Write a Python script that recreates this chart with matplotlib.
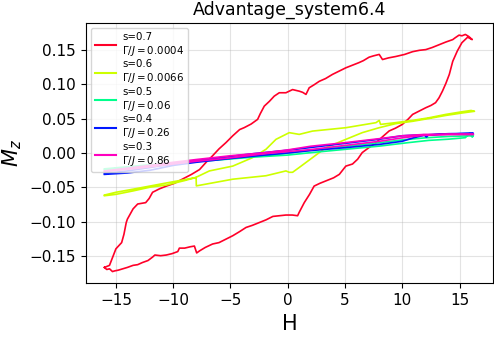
import numpy as np
import matplotlib.pyplot as plt

# --- data (field sweep up, then back down) ---
s_values = [0.7, 0.6, 0.5, 0.4, 0.3]
gamma_labels = ["0.0004", "0.0066", "0.06", "0.26", "0.86"]

# s=0.7 : increasing-H branch followed by decreasing-H branch
h_07 = [-16.0, -15.8, -15.56, -15.3, -15.1, -14.8, -14.4, -14.0, -13.5, -13.1, -12.7, -12.2,
        -11.8, -11.6, -11.1, -10.6, -10.1, -9.6, -9.46, -9.0, -8.5, -8.15, -7.95, -7.7, -7.2,
        -6.56, -6.0, -5.4, -4.8, -4.2, -3.64, -3.1, -2.5, -1.9, -1.3, -0.7, -0.16, 0.4, 0.86,
        1.0, 1.44, 1.9, 2.3, 2.8, 3.4, 4.0, 4.5, 5.07, 5.65, 6.1, 6.5, 7.1, 7.7, 8.3, 8.85,
        9.4, 10.0, 10.5, 10.9, 11.5, 12.05, 12.5, 12.9, 13.2, 13.5, 13.8, 14.1, 14.4, 14.8,
        15.2, 15.7, 16.1,
        15.8, 15.5, 15.2, 14.95, 14.6, 14.4, 13.8, 13.2, 12.6, 12.05, 11.5, 10.9, 10.2, 9.43,
        8.8, 8.27, 8.1, 7.98, 7.5, 7.1, 6.6, 6.2, 5.6, 5.07, 4.5, 3.9, 3.3, 2.75, 2.3, 1.87,
        1.59, 1.3, 1.0, 0.42, -0.16, -0.74, -1.18, -1.6, -2.05, -2.4, -2.63, -3.2, -3.8, -4.2,
        -4.8, -5.4, -6.0, -6.56, -7.1, -7.7, -8.4, -9.2, -9.9, -10.6, -11.2, -11.8, -12.1,
        -12.4, -13.1, -13.5, -13.8, -14.0, -14.1, -14.3, -14.5, -15.0, -15.3, -15.56, -16.0]
m_07 = [-0.166, -0.169, -0.168, -0.172, -0.171, -0.170, -0.168, -0.166, -0.163, -0.162, -0.159,
        -0.156, -0.151, -0.148, -0.149, -0.148, -0.146, -0.143, -0.138, -0.138, -0.136, -0.135,
        -0.145, -0.142, -0.137, -0.132, -0.130, -0.125, -0.120, -0.114, -0.108, -0.105, -0.101,
        -0.097, -0.092, -0.091, -0.090, -0.090, -0.091, -0.086, -0.072, -0.060, -0.048, -0.044,
        -0.040, -0.036, -0.031, -0.019, -0.016, -0.009, 0.0006, 0.008, 0.015, 0.024, 0.032,
        0.036, 0.0415, 0.049, 0.056, 0.061, 0.0657, 0.069, 0.073, 0.080, 0.0897, 0.101, 0.114,
        0.133, 0.148, 0.160, 0.168, 0.1645,
        0.169, 0.172, 0.170, 0.171, 0.167, 0.1645, 0.161, 0.157, 0.153, 0.150, 0.149, 0.147,
        0.143, 0.140, 0.138, 0.1356, 0.140, 0.143, 0.141, 0.139, 0.134, 0.131, 0.127, 0.1236,
        0.119, 0.114, 0.108, 0.104, 0.099, 0.0946, 0.085, 0.088, 0.0897, 0.092, 0.0874, 0.0874,
        0.0825, 0.075, 0.068, 0.057, 0.0488, 0.042, 0.0368, 0.034, 0.025, 0.015, 0.006, -0.004,
        -0.013, -0.024, -0.031, -0.038, -0.044, -0.048, -0.052, -0.057, -0.066, -0.072, -0.074,
        -0.081, -0.090, -0.096, -0.101, -0.118, -0.130, -0.139, -0.152, -0.163, -0.166]

# s=0.6
h_06 = [-16.0, -15.0, -13.5, -12.0, -10.6, -9.0, -8.05, -6.84, -4.8, -3.07, -1.9, -1.03, 0.13,
        1.0, 2.16, 5.07, 7.7, 7.98, 8.1, 9.4, 10.9, 12.3, 13.8, 15.2, 16.0, 16.3,
        15.2, 13.8, 12.3, 10.9, 9.4, 7.98, 6.5, 5.07, 3.33, 2.16, 1.0, 0.42, 0.13, -0.16, -1.9,
        -4.8, -7.98, -8.0, -10.6, -13.5, -15.0, -16.0]
m_06 = [-0.062, -0.060, -0.055, -0.0495, -0.0465, -0.040, -0.0356, -0.026, -0.019, -0.0067,
        0.0054, 0.0198, 0.0295, 0.027, 0.0318, 0.0367, 0.044, 0.0473, 0.0415, 0.044, 0.0473,
        0.051, 0.056, 0.0598, 0.0617, 0.0605,
        0.058, 0.0545, 0.050, 0.046, 0.0425, 0.0367, 0.0295, 0.0198, 0.0078, -0.0067, -0.021,
        -0.028, -0.028, -0.026, -0.033, -0.038, -0.0477, -0.0356, -0.0435, -0.0525, -0.057,
        -0.061]

# s=0.5
h_05 = [-16.0, -13.0, -10.0, -6.0, -3.0, 0.0, 2.0, 5.0, 8.0, 10.5, 12.3, 14.0, 15.5, 15.9,
        16.1, 16.2,
        14.0, 12.0, 10.0, 8.0, 5.0, 2.0, 0.0, -4.0, -8.0, -12.0, -16.0]
m_05 = [-0.024, -0.020, -0.015, -0.010, -0.006, -0.003, 0.0005, 0.0053, 0.010, 0.015, 0.0183,
        0.020, 0.0222, 0.029, 0.023, 0.025,
        0.024, 0.022, 0.019, 0.015, 0.0095, 0.004, 0.000, -0.006, -0.012, -0.017, -0.023]

# s=0.4
h_04 = [-16.0, -14.0, -12.0, -10.0, -8.0, -5.0, -2.0, 0.0, 2.0, 5.0, 8.0, 10.0, 11.0, 12.0,
        13.5, 15.0, 16.2,
        14.0, 12.3, 12.1, 11.9, 10.0, 8.0, 5.0, 2.0, 0.0, -3.0, -6.0, -9.0, -12.0, -14.0, -16.0]
m_04 = [-0.031, -0.029, -0.025, -0.018, -0.0135, -0.008, -0.003, 0.000, 0.0035, 0.0077, 0.0125,
        0.017, 0.0222, 0.026, 0.027, 0.028, 0.0285,
        0.028, 0.0265, 0.023, 0.0265, 0.025, 0.020, 0.014, 0.008, 0.004, -0.001, -0.007, -0.013,
        -0.021, -0.026, -0.030]

# s=0.3
h_03 = [-16.0, -13.0, -10.0, -8.0, -5.0, -2.0, 0.0, 2.0, 5.0, 8.0, 10.0, 12.0, 14.0, 16.2,
        14.0, 12.0, 10.0, 8.0, 5.0, 2.0, 0.0, -2.0, -5.0, -8.0, -10.0, -13.0, -16.0]
m_03 = [-0.027, -0.022, -0.016, -0.012, -0.007, -0.001, 0.002, 0.005, 0.011, 0.017, 0.022,
        0.026, 0.027, 0.027,
        0.027, 0.027, 0.025, 0.0208, 0.015, 0.0098, 0.0045, 0.0005, -0.004, -0.0095, -0.0135,
        -0.020, -0.026]

curves = [(h_07, m_07), (h_06, m_06), (h_05, m_05), (h_04, m_04), (h_03, m_03)]

fig = plt.figure(figsize=(4.94, 3.37), dpi=100)
ax = fig.add_axes([0.174, 0.159, 0.824, 0.774])

colors = plt.cm.gist_rainbow(np.linspace(0, 1, len(s_values)))
for (h, m), s, g, c in zip(curves, s_values, gamma_labels, colors):
    ax.plot(h, m, color=c, lw=1.2, label=f"s={s}\n$\\Gamma/J = {g}$")

ax.set_title("Advantage_system6.4", fontsize=12.5)
ax.set_xlabel("H", fontsize=15)
ax.set_ylabel("$M_z$", fontsize=15)
ax.tick_params(labelsize=11)
ax.set_xticks([-15, -10, -5, 0, 5, 10, 15])
ax.set_yticks([-0.15, -0.10, -0.05, 0.00, 0.05, 0.10, 0.15])
ax.grid(True, color="#b0b0b0", alpha=0.35, lw=0.8)
leg = ax.legend(loc="upper left", fontsize=7.4, labelspacing=0.15, handletextpad=0.6)
for line in leg.get_lines():
    line.set_linewidth(1.5)

fig.savefig("out.png", dpi=100)
